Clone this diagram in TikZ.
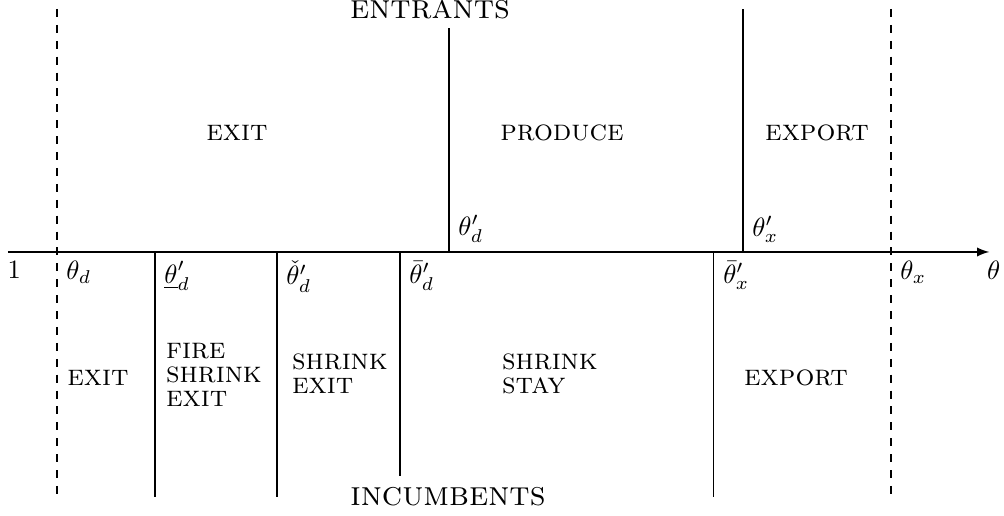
\documentclass[tikz,border=0pt]{standalone}
\begin{document}
\begin{tikzpicture}[x=1cm, y=1cm, >=latex]
	\tikzset{region/.style={font={\fontsize{11.2}{9}\selectfont\scshape}, align=left},
		group/.style={font={\fontsize{13}{15}\selectfont\scshape}}}
	\useasboundingbox (0,-3.501) rectangle (13.316,3.342);
	
	% 1. 坐标点
	\coordinate (ax0) at (0.106,0);
	\coordinate (ax1) at (13.12,0);
	\coordinate (tdT) at (0.756,3.223);  \coordinate (tdB) at (0.756,-3.249);
	\coordinate (txT) at (11.817,3.223); \coordinate (txB) at (11.817,-3.249);
	\coordinate (lowd) at (2.056,0);  \coordinate (lowdB) at (2.056,-3.249);
	\coordinate (chkd) at (3.674,0);  \coordinate (chkdB) at (3.674,-3.249);
	\coordinate (bard) at (5.305,0);  \coordinate (bardB) at (5.305,-2.971);
	\coordinate (entd) at (5.955,0);  \coordinate (entdT) at (5.955,2.971);
	\coordinate (barx) at (9.469,0);  \coordinate (barxB) at (9.469,-3.249);
	\coordinate (entx) at (9.854,0);  \coordinate (entxT) at (9.854,3.223);
	
	% 2. 虚线边界与分隔线
	\draw[dashed] (tdT) -- (tdB);
	\draw[dashed] (txT) -- (txB);
	\draw (lowd) -- (lowdB);
	\draw (chkd) -- (chkdB);
	\draw (bard) -- (bardB);
	\draw (barx) -- (barxB);
	\draw (entd) -- (entdT);
	\draw (entx) -- (entxT);
	
	% 3. 坐标轴
	\draw[->, semithick] (ax0) -- (ax1);
	\node[below] (one) at (0.19,0) {$1$};
	\node[below] (th) at (13.18,0) {$\theta$};
	
	% 4. 阈值标号
	\node[below right] (thd) at (0.756,0) {$\theta_d$};
	\node[below right] (thx) at (txT |- ax0) {$\theta_x$};
	\node[below right] (thlow) at (lowd) {$\underline{\theta}'_d$};
	\node[below right] (thchk) at (chkd) {$\check{\theta}'_d$};
	\node[below right] (thbard) at (bard) {$\bar{\theta}'_d$};
	\node[below right] (thbarx) at (barx) {$\bar{\theta}'_x$};
	\node[above right] (thentd) at (entd) {$\theta'_d$};
	\node[above right] (thentx) at (entx) {$\theta'_x$};
	
	% 5. 区域标签
	\node[group] (entrants) at (5.703,3.21) {entrants};
	\node[region] (uexit) at (3.143,1.578) {exit};
	\node[region] (produce) at (7.454,1.578) {produce};
	\node[region] (uexport) at (10.836,1.578) {export};
	\node[region] (lexit) at (1.300,-1.671) {exit};
	\node[region] (fire) at (2.838,-1.631) {fire\\shrink\\exit};
	\node[region] (shexit) at (4.509,-1.618) {shrink\\exit};
	\node[region] (shstay) at (7.294,-1.618) {shrink\\stay};
	\node[region] (lexport) at (10.557,-1.671) {export};
	\node[group] (incumbents) at (5.942,-3.249) {incumbents};
\end{tikzpicture}
\end{document}
